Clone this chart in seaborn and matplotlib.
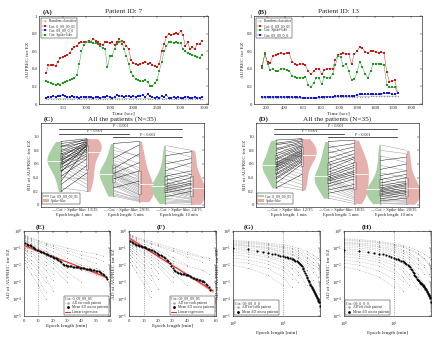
import numpy as np
import pandas as pd
import matplotlib
matplotlib.use("Agg")
import matplotlib.pyplot as plt
import seaborn as sns
from matplotlib.lines import Line2D
from matplotlib.patches import Patch

# ---------------- data ----------------
time_a = list(range(150, 3451, 50))
a_coi1 = [0.35, 0.44, 0.44, 0.44, 0.43, 0.48, 0.52, 0.53, 0.55, 0.56,
          0.58, 0.62, 0.65, 0.66, 0.69, 0.70, 0.70, 0.71, 0.72, 0.71,
          0.74, 0.72, 0.70, 0.68, 0.67, 0.70, 0.70, 0.69, 0.70, 0.67,
          0.70, 0.74, 0.68, 0.70, 0.66, 0.62, 0.50, 0.47, 0.45, 0.44,
          0.46, 0.47, 0.48, 0.46, 0.47, 0.44, 0.43, 0.42, 0.46, 0.60,
          0.68, 0.76, 0.80, 0.78, 0.80, 0.81, 0.80, 0.83, 0.78, 0.66,
          0.70, 0.62, 0.65, 0.62, 0.68, 0.68, 0.72]
a_spike = [0.26, 0.25, 0.24, 0.23, 0.22, 0.23, 0.22, 0.24, 0.25, 0.26,
           0.27, 0.28, 0.29, 0.33, 0.45, 0.60, 0.67, 0.70, 0.70, 0.70,
           0.69, 0.69, 0.68, 0.66, 0.64, 0.62, 0.42, 0.54, 0.55, 0.63,
           0.68, 0.70, 0.72, 0.62, 0.55, 0.45, 0.36, 0.32, 0.28, 0.27,
           0.26, 0.26, 0.27, 0.25, 0.21, 0.20, 0.24, 0.27, 0.38, 0.48,
           0.60, 0.66, 0.70, 0.70, 0.69, 0.70, 0.69, 0.69, 0.62, 0.60,
           0.58, 0.57, 0.56, 0.54, 0.53, 0.52, 0.56]
a_coi2 = [0.07, 0.08, 0.08, 0.09, 0.08, 0.09, 0.09, 0.10, 0.09, 0.08,
          0.08, 0.09, 0.08, 0.08, 0.07, 0.08, 0.08, 0.08, 0.08, 0.08,
          0.07, 0.08, 0.08, 0.07, 0.08, 0.08, 0.09, 0.08, 0.07, 0.08,
          0.10, 0.09, 0.09, 0.08, 0.09, 0.09, 0.08, 0.09, 0.08, 0.09,
          0.09, 0.10, 0.08, 0.11, 0.09, 0.08, 0.07, 0.08, 0.07, 0.09,
          0.08, 0.10, 0.07, 0.07, 0.08, 0.07, 0.08, 0.07, 0.07, 0.08,
          0.08, 0.07, 0.07, 0.08, 0.07, 0.07, 0.08]
a_random = [0.055, 0.06, 0.06, 0.055, 0.06, 0.06, 0.06, 0.055, 0.06, 0.06,
            0.06, 0.055, 0.06, 0.06, 0.06, 0.055, 0.06, 0.06, 0.06, 0.06,
            0.055, 0.06, 0.06, 0.06, 0.055, 0.06, 0.06, 0.06, 0.055, 0.06,
            0.06, 0.06, 0.055, 0.06, 0.06, 0.06, 0.055, 0.06, 0.06, 0.06,
            0.06, 0.055, 0.06, 0.06, 0.06, 0.055, 0.06, 0.06, 0.06, 0.06,
            0.055, 0.06, 0.06, 0.06, 0.055, 0.06, 0.06, 0.06, 0.055, 0.06,
            0.06, 0.06, 0.055, 0.06, 0.06, 0.06, 0.06]

time_b = list(range(150, 1651, 30))
b_coi1 = [0.43, 0.57, 0.48, 0.47, 0.55, 0.56, 0.57, 0.58, 0.57, 0.58,
          0.58, 0.48, 0.46, 0.44, 0.46, 0.45, 0.44, 0.37, 0.34, 0.37,
          0.40, 0.40, 0.34, 0.39, 0.40, 0.40, 0.40, 0.50, 0.56, 0.57,
          0.58, 0.57, 0.57, 0.45, 0.57, 0.60, 0.65, 0.64, 0.59, 0.58,
          0.60, 0.60, 0.59, 0.58, 0.59, 0.58, 0.36, 0.25, 0.26, 0.27,
          0.13]
b_spike = [0.41, 0.58, 0.45, 0.39, 0.40, 0.37, 0.38, 0.40, 0.40, 0.39,
           0.38, 0.32, 0.31, 0.30, 0.30, 0.30, 0.31, 0.22, 0.19, 0.24,
           0.30, 0.29, 0.23, 0.31, 0.30, 0.30, 0.34, 0.44, 0.54, 0.53,
           0.43, 0.46, 0.37, 0.27, 0.28, 0.36, 0.48, 0.42, 0.34, 0.30,
           0.37, 0.46, 0.45, 0.46, 0.45, 0.44, 0.22, 0.19, 0.19, 0.19,
           0.12]
b_coi2 = [0.08, 0.08, 0.08, 0.08, 0.08, 0.08, 0.08, 0.08, 0.08, 0.08,
          0.08, 0.08, 0.075, 0.075, 0.075, 0.07, 0.07, 0.07, 0.07, 0.07,
          0.07, 0.075, 0.08, 0.08, 0.085, 0.085, 0.085, 0.09, 0.09, 0.09,
          0.09, 0.09, 0.09, 0.09, 0.095, 0.10, 0.11, 0.11, 0.11, 0.11,
          0.11, 0.11, 0.11, 0.11, 0.115, 0.12, 0.12, 0.12, 0.11, 0.11,
          0.12]
b_random = [0.07, 0.07, 0.07, 0.07, 0.07, 0.07, 0.07, 0.07, 0.07, 0.07,
            0.07, 0.07, 0.07, 0.065, 0.065, 0.065, 0.065, 0.065, 0.065, 0.065,
            0.065, 0.07, 0.07, 0.07, 0.075, 0.075, 0.075, 0.08, 0.08, 0.08,
            0.08, 0.08, 0.08, 0.08, 0.08, 0.08, 0.085, 0.085, 0.085, 0.085,
            0.09, 0.09, 0.09, 0.09, 0.09, 0.09, 0.09, 0.09, 0.09, 0.09,
            0.09]

# RD values (35 patients) for epoch length 1, 5, 10 min
epoch_groups = ["1 min", "5 min", "10 min"]
c_coi = [
    [0.93, 0.90, 0.88, 0.86, 0.85, 0.83, 0.80, 0.78, 0.76, 0.75, 0.73, 0.72, 0.70, 0.69, 0.68, 0.66, 0.65, 0.64,
     0.63, 0.62, 0.61, 0.60, 0.58, 0.57, 0.55, 0.52, 0.50, 0.48, 0.45, 0.42, 0.40, 0.35, 0.30, 0.25, 0.20],
    [0.90, 0.85, 0.80, 0.75, 0.72, 0.68, 0.65, 0.62, 0.60, 0.58, 0.55, 0.53, 0.52, 0.50, 0.49, 0.48, 0.47, 0.46,
     0.45, 0.44, 0.43, 0.42, 0.40, 0.38, 0.36, 0.34, 0.32, 0.30, 0.28, 0.25, 0.22, 0.20, 0.17, 0.15, 0.13],
    [0.87, 0.80, 0.72, 0.65, 0.60, 0.55, 0.50, 0.47, 0.44, 0.42, 0.40, 0.38, 0.36, 0.34, 0.32, 0.30, 0.29, 0.28,
     0.27, 0.26, 0.25, 0.24, 0.23, 0.22, 0.21, 0.20, 0.18, 0.16, 0.14, 0.12, 0.10, 0.08, 0.06, 0.04, 0.02]]
c_spike = [
    [0.97, 0.95, 0.80, 0.96, 0.92, 0.70, 0.94, 0.90, 0.65, 0.88, 0.86, 0.60, 0.93, 0.55, 0.85, 0.82, 0.50, 0.91,
     0.45, 0.80, 0.40, 0.78, 0.87, 0.35, 0.75, 0.30, 0.72, 0.89, 0.25, 0.68, 0.38, 0.84, 0.58, 0.20, 0.47],
    [0.93, 0.70, 0.72, 0.60, 0.50, 0.88, 0.55, 0.45, 0.42, 0.40, 0.35, 0.75, 0.33, 0.30, 0.38, 0.28, 0.26, 0.62,
     0.25, 0.22, 0.30, 0.20, 0.18, 0.50, 0.16, 0.14, 0.15, 0.12, 0.10, 0.35, 0.08, 0.10, 0.07, 0.06, 0.05],
    [0.80, 0.70, 0.78, 0.55, 0.68, 0.45, 0.62, 0.40, 0.35, 0.50, 0.30, 0.28, 0.45, 0.25, 0.22, 0.40, 0.20, 0.18,
     0.35, 0.16, 0.15, 0.32, 0.14, 0.12, 0.30, 0.10, 0.25, 0.09, 0.08, 0.20, 0.06, 0.05, 0.04, 0.03, 0.01]]
c_counts = ["13/35", "29/35", "24/35"]

d_coi = [
    [0.95, 0.92, 0.90, 0.88, 0.85, 0.82, 0.80, 0.78, 0.75, 0.72, 0.70, 0.68, 0.66, 0.64, 0.62, 0.61, 0.60, 0.59,
     0.58, 0.57, 0.56, 0.55, 0.53, 0.52, 0.50, 0.48, 0.46, 0.44, 0.42, 0.40, 0.38, 0.35, 0.32, 0.28, 0.25],
    [0.93, 0.88, 0.84, 0.80, 0.76, 0.72, 0.68, 0.65, 0.62, 0.60, 0.58, 0.55, 0.52, 0.50, 0.48, 0.46, 0.44, 0.42,
     0.41, 0.40, 0.39, 0.38, 0.37, 0.36, 0.35, 0.33, 0.31, 0.29, 0.27, 0.25, 0.22, 0.20, 0.17, 0.14, 0.10],
    [0.88, 0.80, 0.72, 0.65, 0.58, 0.52, 0.47, 0.43, 0.40, 0.37, 0.34, 0.32, 0.30, 0.28, 0.26, 0.25, 0.24, 0.23,
     0.22, 0.21, 0.20, 0.19, 0.18, 0.17, 0.16, 0.15, 0.14, 0.12, 0.10, 0.09, 0.08, 0.06, 0.05, 0.03, 0.02]]
d_spike = [
    [0.97, 0.85, 0.96, 0.94, 0.75, 0.93, 0.91, 0.70, 0.89, 0.87, 0.62, 0.86, 0.84, 0.55, 0.82, 0.80, 0.50, 0.79,
     0.77, 0.45, 0.76, 0.74, 0.40, 0.73, 0.71, 0.35, 0.69, 0.67, 0.30, 0.65, 0.63, 0.25, 0.60, 0.22, 0.45],
    [0.95, 0.70, 0.90, 0.65, 0.85, 0.60, 0.80, 0.50, 0.75, 0.45, 0.70, 0.40, 0.68, 0.35, 0.62, 0.30, 0.58, 0.25,
     0.55, 0.22, 0.50, 0.20, 0.48, 0.18, 0.45, 0.15, 0.42, 0.12, 0.38, 0.10, 0.30, 0.08, 0.25, 0.05, 0.02],
    [0.80, 0.75, 0.62, 0.70, 0.50, 0.60, 0.40, 0.50, 0.32, 0.45, 0.28, 0.40, 0.25, 0.35, 0.20, 0.32, 0.18, 0.30,
     0.16, 0.28, 0.15, 0.25, 0.12, 0.22, 0.10, 0.20, 0.08, 0.18, 0.06, 0.15, 0.05, 0.10, 0.04, 0.02, 0.01]]
d_counts = ["12/35", "18/35", "20/35"]

# AD curves (log10 values)
epochs_ef = list(range(1, 59))
epochs_gh = list(range(1, 56))
patient_epochs = [1, 2, 5, 10, 15, 20, 30, 40, 50, 55]

e_mean_log = [-0.72, -0.76, -0.80, -0.85, -0.89, -0.93, -0.98, -1.03, -1.09, -1.14,
              -1.17, -1.21, -1.25, -1.29, -1.33, -1.37, -1.41, -1.45, -1.49, -1.53,
              -1.57, -1.61, -1.66, -1.71, -1.77, -1.84, -1.92, -1.98, -2.02, -2.04,
              -2.06, -2.07, -2.08, -2.09, -2.11, -2.12, -2.13, -2.14, -2.15, -2.17,
              -2.18, -2.20, -2.21, -2.23, -2.24, -2.26, -2.28, -2.29, -2.31, -2.33,
              -2.35, -2.38, -2.41, -2.45, -2.50, -2.58, -2.68, -2.85]
f_mean_log = [-0.60, -0.65, -0.70, -0.75, -0.80, -0.83, -0.86, -0.89, -0.92, -0.94,
              -0.97, -1.00, -1.03, -1.07, -1.10, -1.14, -1.19, -1.24, -1.29, -1.34,
              -1.39, -1.44, -1.49, -1.55, -1.60, -1.68, -1.78, -1.89, -2.03, -2.18,
              -2.30, -2.38, -2.42, -2.45, -2.48, -2.50, -2.52, -2.54, -2.56, -2.58,
              -2.61, -2.65, -2.69, -2.74, -2.78, -2.81, -2.84, -2.87, -2.90, -2.92,
              -2.96, -3.02, -3.10, -3.18, -3.27, -3.45, -3.86, -4.06]
g_mean_log = [-0.98, -1.08, -1.15, -1.22, -1.28, -1.33, -1.38, -1.42, -1.46, -1.49,
              -1.52, -1.55, -1.58, -1.61, -1.64, -1.67, -1.71, -1.74, -1.78, -1.82,
              -1.88, -1.95, -2.02, -2.08, -2.15, -2.25, -2.35, -2.45, -2.58, -2.70,
              -2.78, -2.86, -2.94, -3.02, -3.10, -3.16, -3.22, -3.28, -3.34, -3.40,
              -3.46, -3.52, -3.58, -3.64, -3.70, -3.76, -3.82, -3.88, -3.94, -4.00,
              -4.05, -4.10, -4.15, -4.20, -4.40]
h_mean_log = [-1.12, -1.18, -1.23, -1.28, -1.33, -1.38, -1.43, -1.49, -1.55, -1.60,
              -1.63, -1.66, -1.70, -1.74, -1.78, -1.83, -1.88, -1.93, -1.99, -2.05,
              -2.13, -2.21, -2.30, -2.39, -2.48, -2.56, -2.64, -2.72, -2.80, -2.87,
              -2.91, -2.95, -2.99, -3.03, -3.06, -3.10, -3.14, -3.18, -3.22, -3.26,
              -3.31, -3.35, -3.40, -3.44, -3.49, -3.54, -3.59, -3.64, -3.69, -3.74,
              -3.78, -3.83, -3.88, -3.93, -4.19]

e_patients_log = [
    [-0.25, -0.3, -0.4, -0.55, -0.7, -0.8, -1.0, -1.2, -1.35, -1.45],
    [-0.35, -0.4, -0.5, -0.7, -0.85, -1.0, -1.3, -1.6, -1.9],
    [-0.4, -0.45, -0.6, -0.8, -1.0, -1.2, -1.6, -2.0],
    [-0.5, -0.55, -0.7, -0.95, -1.15, -1.4, -1.9, -2.3, -2.6],
    [-0.6, -0.65, -0.8, -1.05, -1.3, -1.6, -2.2],
    [-0.7, -0.75, -0.9, -1.2, -1.45, -1.75, -2.4, -3.0],
    [-0.8, -0.85, -1.0, -1.3, -1.6, -1.9, -2.7],
    [-0.9, -1.0, -1.15, -1.45, -1.8, -2.2, -3.0],
    [-1.0, -1.1, -1.3, -1.65, -2.0, -2.5],
    [-1.1, -1.2, -1.45, -1.8, -2.3, -2.9],
    [-1.3, -1.4, -1.7, -2.1, -2.7, -3.5],
    [-1.5, -1.6, -1.9, -2.4, -3.0],
    [-1.7, -1.8, -2.2, -2.8, -3.6],
    [-0.3, -0.35, -0.45, -0.6, -0.75, -0.9, -1.15, -1.4, -1.6, -1.75],
    [-1.9, -2.1, -2.5, -3.2, -4.0],
    [-0.55, -0.6, -0.75, -1.0, -1.2, -1.45, -1.8, -2.0, -2.2, -2.35]]
f_patients_log = [
    [-0.2, -0.25, -0.35, -0.5, -0.6, -0.75, -1.0, -1.25, -1.5, -1.6],
    [-0.3, -0.35, -0.45, -0.6, -0.75, -0.9, -1.2, -1.5, -1.8],
    [-0.4, -0.45, -0.55, -0.75, -0.95, -1.15, -1.55, -2.0],
    [-0.45, -0.5, -0.65, -0.9, -1.1, -1.35, -1.9, -2.5, -3.0],
    [-0.55, -0.6, -0.75, -1.0, -1.25, -1.55, -2.2],
    [-0.65, -0.7, -0.85, -1.1, -1.4, -1.7, -2.4, -3.2],
    [-0.75, -0.8, -0.95, -1.25, -1.55, -1.9, -2.7],
    [-0.85, -0.9, -1.05, -1.35, -1.7, -2.1, -3.0],
    [-0.95, -1.0, -1.2, -1.55, -1.95, -2.45],
    [-1.05, -1.15, -1.35, -1.75, -2.2, -2.8],
    [-1.2, -1.3, -1.6, -2.0, -2.6, -3.4],
    [-1.4, -1.5, -1.8, -2.3, -2.9],
    [-1.6, -1.75, -2.1, -2.7, -3.5],
    [-0.25, -0.3, -0.4, -0.55, -0.7, -0.85, -1.1, -1.35, -1.55, -1.7],
    [-1.8, -2.0, -2.4, -3.1, -3.9],
    [-0.5, -0.55, -0.7, -0.95, -1.15, -1.4, -1.75, -2.05, -2.3, -2.5]]
g_patients_log = [
    [-0.55, -0.6, -0.7, -0.8, -0.9, -1.0, -1.2, -1.4, -1.6, -1.7],
    [-0.6, -0.65, -0.75, -0.9, -1.0, -1.1, -1.35, -1.6, -1.9],
    [-0.7, -0.75, -0.85, -1.0, -1.15, -1.3, -1.6, -2.0],
    [-0.75, -0.85, -1.0, -1.2, -1.35, -1.5, -1.9, -2.4],
    [-0.85, -0.9, -1.05, -1.25, -1.4, -1.6, -2.1],
    [-0.9, -1.0, -1.15, -1.35, -1.55, -1.75, -2.3, -2.9],
    [-1.0, -1.1, -1.25, -1.45, -1.65, -1.9, -2.6],
    [-1.05, -1.15, -1.3, -1.55, -1.8, -2.1],
    [-1.15, -1.25, -1.45, -1.7, -2.0, -2.4, -3.2],
    [-1.25, -1.35, -1.55, -1.85, -2.2, -2.6],
    [-1.4, -1.5, -1.75, -2.1, -2.5, -3.0],
    [-1.6, -1.7, -1.95, -2.3, -2.8],
    [-1.8, -1.9, -2.2, -2.7, -3.3],
    [-0.65, -0.7, -0.8, -0.95, -1.05, -1.2, -1.5, -1.8, -2.2, -2.4],
    [-2.0, -2.2, -2.6, -3.2],
    [-0.8, -0.85, -0.95, -1.1, -1.25, -1.4, -1.75, -2.2, -2.7, -3.0]]
h_patients_log = [
    [-0.45, -0.5, -0.6, -0.75, -0.85, -0.95, -1.15, -1.35, -1.55, -1.65],
    [-0.55, -0.6, -0.7, -0.85, -0.95, -1.1, -1.35, -1.6, -1.9],
    [-0.65, -0.7, -0.8, -0.95, -1.1, -1.25, -1.6, -2.0],
    [-0.75, -0.8, -0.95, -1.15, -1.3, -1.5, -1.95, -2.5],
    [-0.85, -0.9, -1.05, -1.25, -1.45, -1.65, -2.2],
    [-0.95, -1.0, -1.15, -1.4, -1.6, -1.85, -2.5, -3.1],
    [-1.05, -1.1, -1.3, -1.55, -1.75, -2.0, -2.7],
    [-1.15, -1.2, -1.4, -1.65, -1.9, -2.25],
    [-1.25, -1.35, -1.55, -1.85, -2.15, -2.55, -3.4],
    [-1.35, -1.45, -1.7, -2.0, -2.35, -2.8],
    [-1.5, -1.6, -1.85, -2.25, -2.7, -3.2],
    [-1.7, -1.8, -2.05, -2.45, -2.95],
    [-1.9, -2.0, -2.35, -2.85, -3.5],
    [-0.5, -0.55, -0.65, -0.8, -0.9, -1.05, -1.3, -1.6, -2.0, -2.2],
    [-2.1, -2.3, -2.7, -3.3],
    [-0.7, -0.75, -0.9, -1.05, -1.2, -1.35, -1.7, -2.1, -2.5, -2.7]]

# ---------------- style ----------------
sns.set_theme(style="white")
plt.rcParams.update({
    "font.size": 3.5,
    "axes.linewidth": 0.4,
    "axes.edgecolor": "black",
    "axes.labelsize": 3.8,
    "axes.labelpad": 1.2,
    "axes.titlesize": 5.2,
    "axes.titlepad": 2.0,
    "xtick.labelsize": 3.3,
    "ytick.labelsize": 3.3,
    "xtick.direction": "in",
    "ytick.direction": "in",
    "xtick.major.size": 1.5,
    "ytick.major.size": 1.5,
    "xtick.minor.size": 0.8,
    "ytick.minor.size": 0.8,
    "xtick.major.width": 0.35,
    "ytick.major.width": 0.35,
    "xtick.minor.width": 0.3,
    "ytick.minor.width": 0.3,
    "xtick.major.pad": 1.2,
    "ytick.major.pad": 1.2,
    "mathtext.fontset": "stix",
})
plt.rcParams["font.family"] = ["Liberation Serif", "DejaVu Serif"]

RED = "#d01818"
GREEN = "#1f9a1f"
BLUE = "#1818d8"
GRAY = "#8a8a8a"
VGREEN = "#a6d69e"
VRED = "#f0a9a2"
LGRAY = "#a3a3a3"

fig = plt.figure(figsize=(4.4, 3.39), dpi=100)
W, H = 440.0, 339.0


def add_ax(left, right, top, bottom):
    return fig.add_axes([left / W, 1 - bottom / H, (right - left) / W, (bottom - top) / H])


def frame(ax):
    for s in ax.spines.values():
        s.set_visible(True)
        s.set_linewidth(0.4)
        s.set_color("black")
    ax.tick_params(which="both", top=True, right=True)


def letter(ax, txt, x=0.02):
    ax.text(x, 1.015, txt, transform=ax.transAxes, fontsize=5, fontweight="bold",
            ha="left", va="bottom")


def small_legend(ax, **kw):
    leg = ax.legend(fontsize=2.7, frameon=True, fancybox=False, edgecolor="black",
                    framealpha=1, borderpad=0.3, labelspacing=0.15, handlelength=1.3,
                    handletextpad=0.4, borderaxespad=0.6, **kw)
    leg.get_frame().set_linewidth(0.3)
    return leg


# ---------------- A / B ----------------
def ts_panel(ax, t, series, xlim, xticks, title, let):
    for vals, col, mk, lab in series:
        sns.lineplot(x=t, y=vals, ax=ax, color=col, marker=mk, markersize=1.5,
                     markeredgewidth=0, linewidth=0.3, label=lab)
    ax.set_xlim(*xlim)
    ax.set_ylim(0, 1)
    ax.set_xticks(xticks)
    ax.set_yticks([0, 0.2, 0.4, 0.6, 0.8, 1.0])
    ax.set_yticklabels(["0", "0.2", "0.4", "0.6", "0.8", "1"])
    ax.set_xlabel("Time [sec]")
    ax.set_ylabel("AUPREC for EZ")
    ax.set_title(title)
    frame(ax)
    letter(ax, let)


axA = add_ax(39, 208, 16, 104)
ts_panel(axA, time_a,
         [(a_random, GRAY, "*", "Random classifier"),
          (a_coi1, RED, "s", "Coi: 0_09_09_05"),
          (a_coi2, BLUE, "s", "Coi: 09_09_0_0"),
          (a_spike, GREEN, "s", "Coi: Spike-like")],
         (0, 3580), [500, 1000, 1500, 2000, 2500, 3000, 3500], "Patient ID: 7", "(A)")
small_legend(axA, loc="upper left")

axB = add_ax(254, 422, 16, 104)
ts_panel(axB, time_b,
         [(b_random, GRAY, "*", "Random classifier"),
          (b_coi1, RED, "s", "Coi: 0_09_09_05"),
          (b_spike, GREEN, "s", "Coi: Spike-like"),
          (b_coi2, BLUE, "s", "Coi: 09_09_0_0")],
         (60, 1920), [200, 400, 600, 800, 1000, 1200, 1400, 1600, 1800], "Patient ID: 13", "(B)")
small_legend(axB, loc="upper left")

# ---------------- C / D ----------------
HALF = 0.25      # distance of each half-violin baseline from the group centre
EXT = 0.27       # maximal half-violin extent
SHIFT = EXT / 2  # seaborn draws split halves offset by half their width


def rd_panel(ax, coi, spike, counts, let, coi_label):
    rows, box_rows = [], []
    for g, (gv, rv) in enumerate(zip(coi, spike), start=1):
        rows += [(g - HALF - SHIFT, v, "Coi") for v in gv]
        rows += [(g + HALF + SHIFT, v, "Spike") for v in rv]
        box_rows += [(g - HALF, v) for v in gv] + [(g + HALF, v) for v in rv]
    df = pd.DataFrame(rows, columns=["pos", "value", "method"])
    dfb = pd.DataFrame(box_rows, columns=["pos", "value"])
    native = 1 - 2 * (HALF + SHIFT)
    sns.violinplot(data=df, x="pos", y="value", hue="method", hue_order=["Coi", "Spike"],
                   split=True, native_scale=True, inner=None, cut=0, width=EXT / native,
                   palette=[VGREEN, VRED], linewidth=0, density_norm="width",
                   legend=False, ax=ax)
    sns.boxplot(data=dfb, x="pos", y="value", native_scale=True, width=0.1, fill=False,
                color="#7a7a7a", linewidth=0.4, showfliers=False, ax=ax)
    for g, (gv, rv) in enumerate(zip(coi, spike), start=1):
        xl, xr = g - HALF, g + HALF
        ax.hlines(np.median(gv), xl - EXT, xl, color="white", lw=0.6, zorder=3)
        ax.hlines(np.median(rv), xr, xr + EXT, color="white", lw=0.6, zorder=3)
        for a, b in zip(gv, rv):
            col = "#8f8f8f" if a > b else "black"
            ax.plot([xl, xr], [a, b], color=col, lw=0.3, zorder=4)
    # significance bars
    bars = [(0.72, 3.06, 1.11), (0.72, 2.06, 1.04), (1.75, 3.06, 0.99)]
    for x1, x2, y in bars:
        ax.plot([x1, x2], [y, y], color="#505050", lw=0.7, zorder=5)
        ax.text((x1 + x2) / 2, y + 0.01, "P < 0.001", fontsize=2.9, ha="center", va="bottom")
    ax.set_xlim(0.36, 3.49)
    ax.set_ylim(-0.03, 1.2)
    ax.set_yticks([0, 0.2, 0.4, 0.6, 0.8, 1.0])
    ax.set_yticklabels(["0", "0.2", "0.4", "0.6", "0.8", "1.0"])
    ax.set_xticks([1, 2, 3])
    ax.set_xticklabels([f"— Coi > Spike-like: {c}\nEpoch length: {e}"
                        for c, e in zip(counts, epoch_groups)], fontsize=3.2, linespacing=1.1)
    ax.tick_params(axis="x", length=0, pad=1.0)
    ax.set_xlabel("")
    ax.set_ylabel("RD of AUPREC for EZ")
    ax.set_title("All the patients (N=35)")
    frame(ax)
    ax.tick_params(axis="x", which="both", top=False)
    letter(ax, let)
    handles = [Patch(facecolor=VGREEN, edgecolor="none", label=coi_label),
               Patch(facecolor=VRED, edgecolor="none", label="Spike-like")]
    leg = ax.legend(handles=handles, loc="lower left", bbox_to_anchor=(0.0, 0.02),
                    fontsize=2.7, frameon=True, fancybox=False, edgecolor="black",
                    framealpha=1, borderpad=0.3, labelspacing=0.15, handlelength=1.5,
                    handleheight=0.6, handletextpad=0.4, borderaxespad=0.4)
    leg.get_frame().set_linewidth(0.3)


axC = add_ax(40.7, 204, 123, 207)
rd_panel(axC, c_coi, c_spike, c_counts, "(C)", "Coi: 09_09_09_05")
axD = add_ax(255.7, 419, 123, 207)
rd_panel(axD, d_coi, d_spike, d_counts, "(D)", "Coi: 0_09_09_05")


# ---------------- E - H ----------------
def ad_panel(ax, epochs, mean_log, patients_log, logx, regression, title, let, let_x):
    ax.set_yscale("log")
    if logx:
        ax.set_xscale("log")
    for p in patients_log:
        ax.plot(patient_epochs[:len(p)], [10 ** v for v in p],
                color=LGRAY, linewidth=0.45, linestyle=":", marker=".",
                markersize=1.4, markeredgewidth=0, zorder=2)
    mean_vals = [10 ** v for v in mean_log]
    sns.scatterplot(x=epochs, y=mean_vals, ax=ax, color="black", s=2.4,
                    linewidth=0, zorder=5)
    handles = [Line2D([], [], color=LGRAY, ls=":", lw=0.5, marker=".", ms=1.5,
                      label="AD for each patient"),
               Line2D([], [], color="black", ls="none", marker=".", ms=2,
                      label="Mean AD across patients")]
    if regression:
        x = np.array(epochs, dtype=float)
        y = np.array(mean_log)
        slope, icpt = np.polyfit(x, y, 1)
        resid = y - (slope * x + icpt)
        s = np.sqrt(np.sum(resid ** 2) / (len(x) - 2))
        xx = np.linspace(0, x.max(), 100)
        se = s * np.sqrt(1 / len(x) + (xx - x.mean()) ** 2 / np.sum((x - x.mean()) ** 2))
        yy = slope * xx + icpt
        ax.fill_between(xx, 10 ** (yy - 2.6 * se), 10 ** (yy + 2.6 * se),
                        color="#f5a3a3", lw=0, zorder=3)
        ax.plot(xx, 10 ** yy, color="#e3302c", lw=0.7, zorder=4)
        handles.append(Line2D([], [], color="#e3302c", lw=0.8, label="Linear regression"))
    ax.axvline(10, color="#666666", ls=":", lw=0.5, zorder=2)
    ax.set_ylim(1e-5, 1)
    if logx:
        ax.set_xlim(1, 56)
        ax.set_xticks([1, 10])
        ax.tick_params(axis="x", pad=2.6)
    else:
        ax.set_xlim(0, 60)
        ax.set_xticks([0, 10, 20, 30, 40, 50, 60])
        ax.tick_params(axis="x", pad=1.8)
    ax.set_yticks([1e-5, 1e-4, 1e-3, 1e-2, 1e-1, 1])
    ax.set_xlabel("Epoch length [min]")
    ax.set_ylabel("AD of AUPREC for EZ")
    frame(ax)
    letter(ax, let, let_x)
    loc = "lower left" if logx else "lower right"
    leg = ax.legend(handles=handles, loc=loc, title=title, fontsize=2.6, title_fontsize=2.8,
                    frameon=True, fancybox=False, edgecolor="black", framealpha=1,
                    borderpad=0.3, labelspacing=0.1, handlelength=1.4, handletextpad=0.4,
                    borderaxespad=0.3)
    leg._legend_box.align = "left"
    leg.get_frame().set_linewidth(0.3)


axE = add_ax(24, 110, 231, 316)
ad_panel(axE, epochs_ef, e_mean_log, e_patients_log, False, True, "Coi: 0_09_09_05", "(E)", 0.14)
axF = add_ax(129, 216, 231, 316)
ad_panel(axF, epochs_ef, f_mean_log, f_patients_log, False, True, "Coi: 09_09_09_05", "(F)", 0.32)
axG = add_ax(233, 320, 231, 316)
ad_panel(axG, epochs_gh, g_mean_log, g_patients_log, True, False, "Coi: 09_09_0_0", "(G)", 0.12)
axH = add_ax(344, 431, 231, 316)
ad_panel(axH, epochs_gh, h_mean_log, h_patients_log, True, False, "Coi: 09_0_0_0", "(H)", 0.2)

fig.savefig("out.png", dpi=100)
